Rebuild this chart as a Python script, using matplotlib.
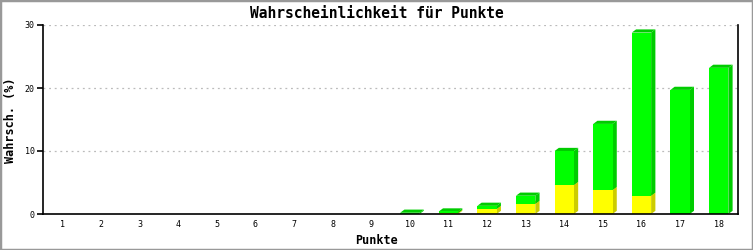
import matplotlib
matplotlib.use("Agg")
import matplotlib.pyplot as plt
from matplotlib.patches import Polygon, Rectangle

categories = list(range(1, 19))
yellow_vals = [0, 0, 0, 0, 0, 0, 0, 0, 0, 0.0, 0.15, 0.8, 1.6, 4.6, 3.8, 2.9, 0.0, 0.0]
green_vals = [0, 0, 0, 0, 0, 0, 0, 0, 0, 0.2, 0.25, 0.5, 1.3, 5.4, 10.5, 25.9, 19.7, 23.2]
yticks = [0, 10, 20, 30]

font = "DejaVu Sans Mono"
fig = plt.figure(figsize=(7.53, 2.5), dpi=100)
fig.patch.set_facecolor("white")
ax = fig.add_axes([0.0571, 0.144, 0.923, 0.756])

ax.set_xlim(0.5, 18.5)
ax.set_ylim(0, 30)

w = 0.5
dx = 0.11
dy = 0.5

def draw_bar(x, y0, h, face, side):
    if h <= 0:
        return
    y1 = y0 + h
    xl, xr = x - w / 2, x + w / 2
    ax.add_patch(Polygon([(xr, y0), (xr + dx, y0 + dy), (xr + dx, y1 + dy), (xr, y1)],
                         closed=True, facecolor=side, edgecolor="none", zorder=3))
    ax.add_patch(Polygon([(xl, y1), (xl + dx, y1 + dy), (xr + dx, y1 + dy), (xr, y1)],
                         closed=True, facecolor=side, edgecolor="none", zorder=3))
    ax.add_patch(Rectangle((xl, y0), w, h, facecolor=face, edgecolor="none", zorder=4))

for c, yv, gv in zip(categories, yellow_vals, green_vals):
    draw_bar(c, 0, yv, "#ffff00", "#cccc00")
    draw_bar(c, yv, gv, "#00ff00", "#00cc00")

for t in yticks[1:]:
    ax.axhline(t, color="#bbbbbb", lw=0.9, ls=(0, (1.5, 3)), zorder=1)

ax.spines["top"].set_visible(False)
for s in ["left", "right", "bottom"]:
    ax.spines[s].set_color("black")
    ax.spines[s].set_linewidth(1.2)
    ax.spines[s].set_zorder(5)

ax.set_yticks(yticks)
ax.set_yticklabels([str(t) for t in yticks], family=font, fontsize=6)
ax.set_xticks(categories)
ax.set_xticklabels([str(c) for c in categories], family=font, fontsize=6)
ax.tick_params(axis="x", length=0, pad=4)
ax.tick_params(axis="y", length=4, width=1.2, direction="out", pad=2)

fig.text(0.5, 0.948, "Wahrscheinlichkeit für Punkte", ha="center", va="center",
         family=font, fontsize=10.5, fontweight="bold")
fig.text(0.5, 0.04, "Punkte", ha="center", va="center",
         family=font, fontsize=8.5, fontweight="bold")
fig.text(0.014, 0.52, "Wahrsch. (%)", ha="center", va="center", rotation=90,
         family=font, fontsize=8.5, fontweight="bold")

fig.add_artist(Rectangle((0, 0), 1, 1, transform=fig.transFigure, fill=False,
                         edgecolor="#999999", lw=2.5))

fig.savefig("out.png", dpi=100)
